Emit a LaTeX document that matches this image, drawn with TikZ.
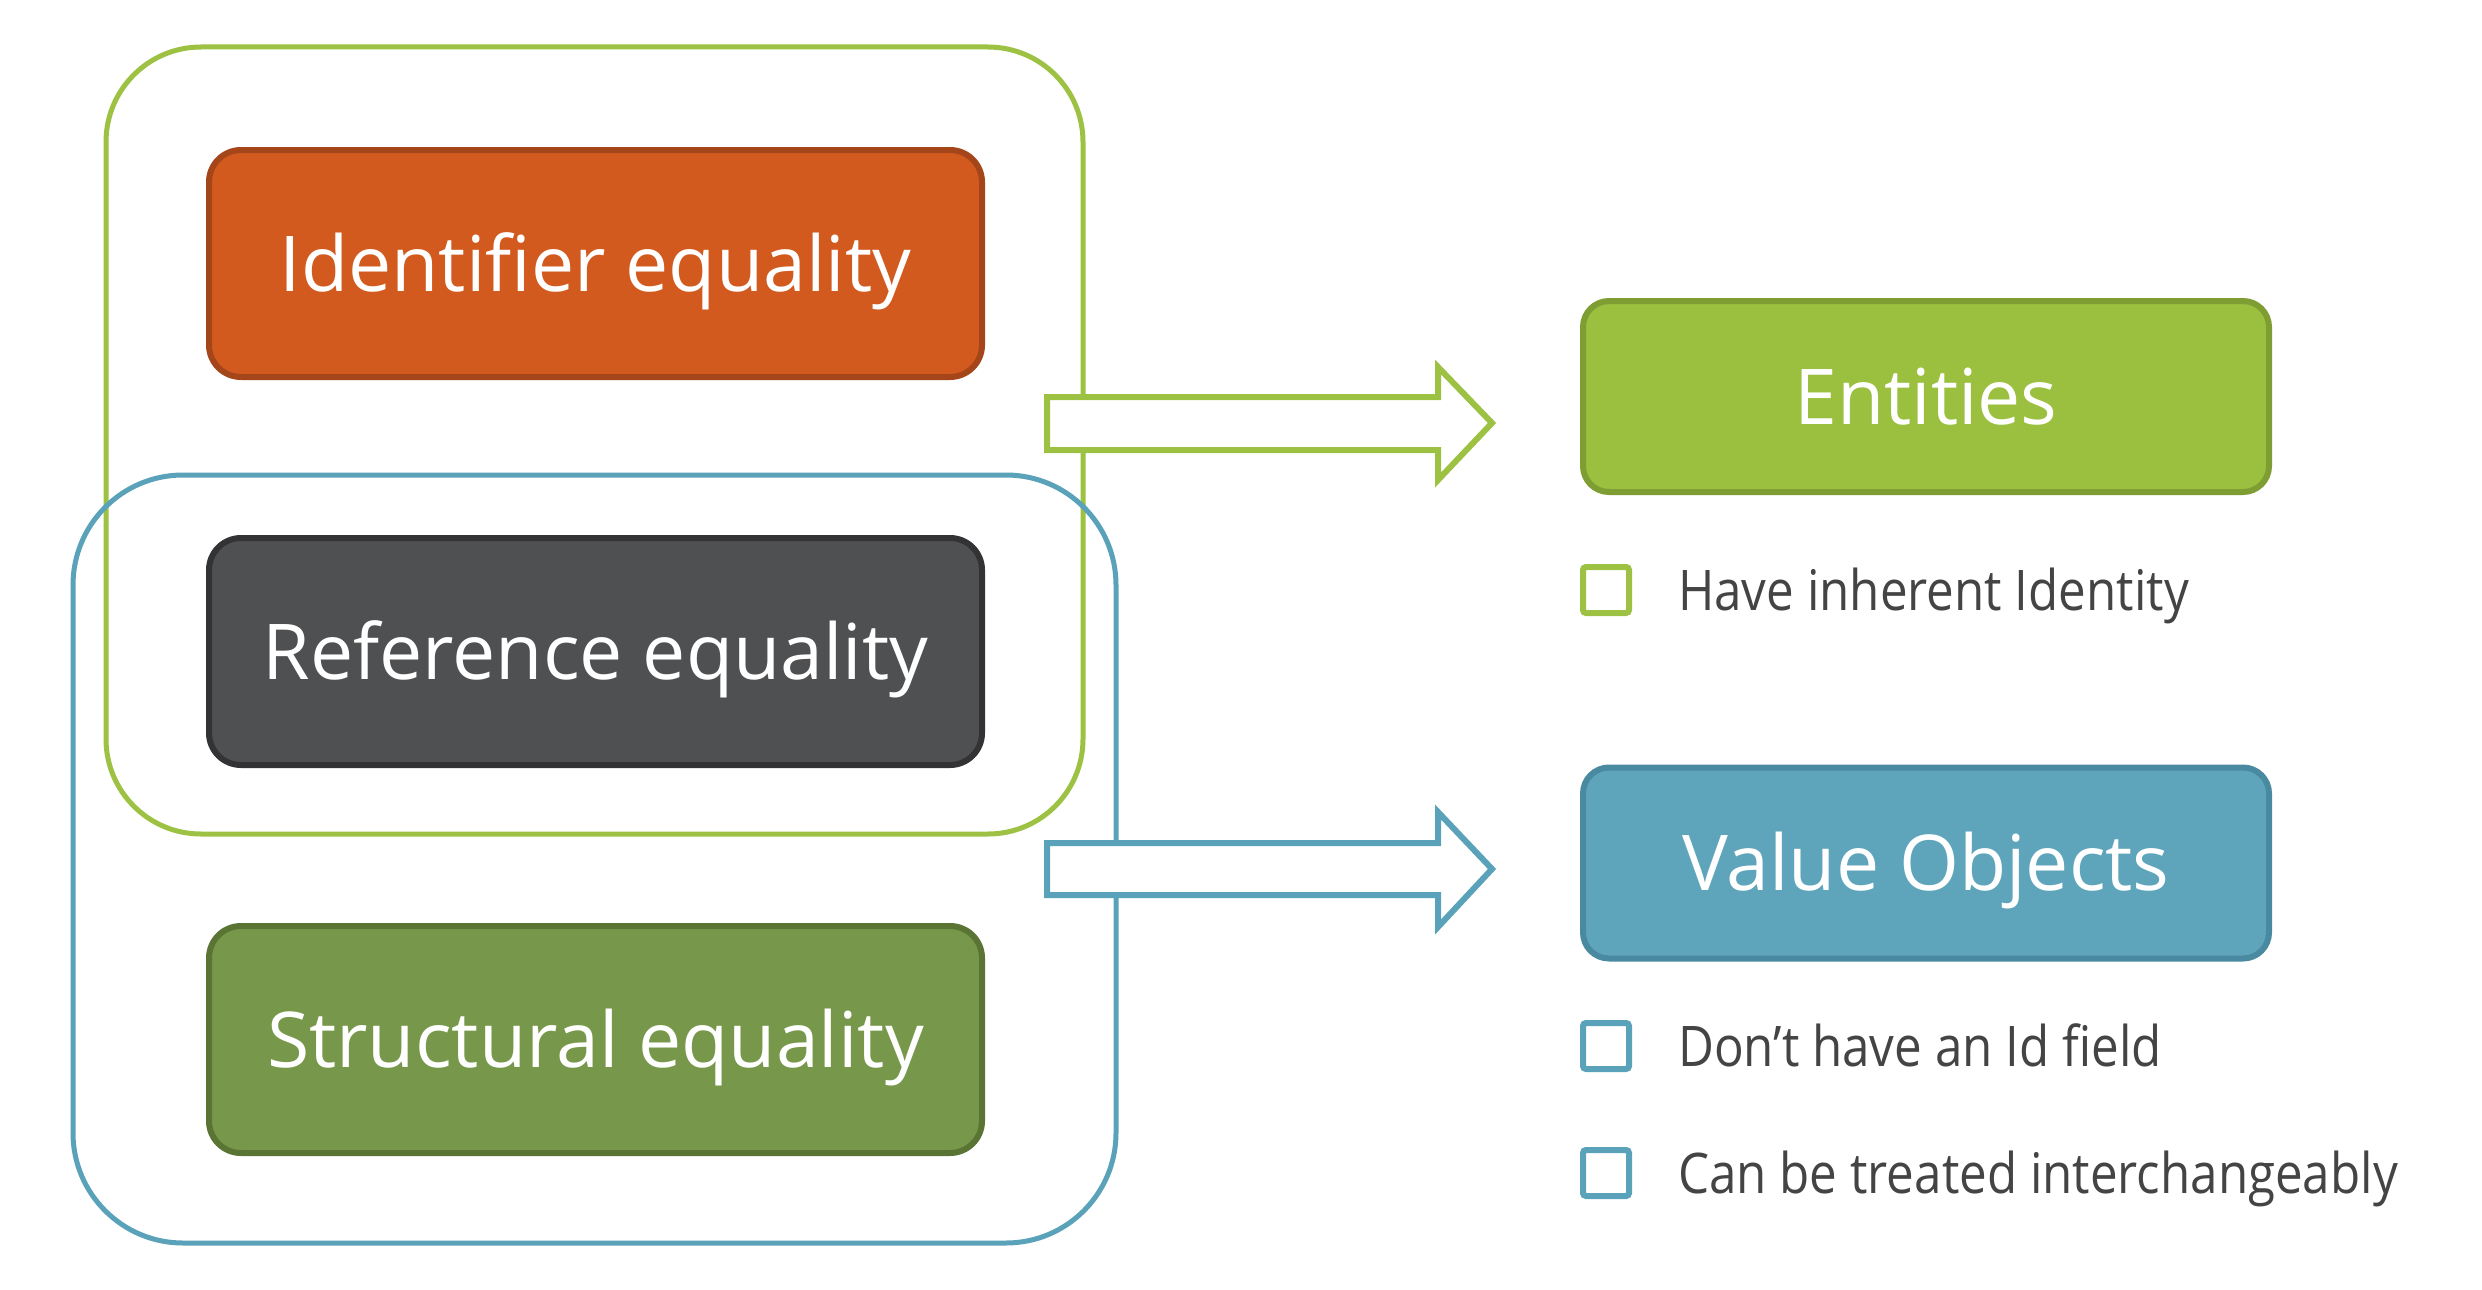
\documentclass[tikz,border=0pt]{standalone}
\usepackage{fontspec}
\setmainfont{Open Sans}
\newfontfamily\itemfont[FakeStretch=0.88]{Open Sans}
\definecolor{orangeF}{HTML}{D35A1E}
\definecolor{orangeD}{HTML}{A5461A}
\definecolor{grayF}{HTML}{4F5052}
\definecolor{grayD}{HTML}{333335}
\definecolor{olivF}{HTML}{77984A}
\definecolor{olivD}{HTML}{5A7433}
\definecolor{limeF}{HTML}{9BBF3E}
\definecolor{limeD}{HTML}{7E9E33}
\definecolor{tealF}{HTML}{5EA5BC}
\definecolor{tealD}{HTML}{4A8AA0}
\definecolor{limeL}{HTML}{9DC142}
\definecolor{tealL}{HTML}{5AA2B9}
\definecolor{txt}{HTML}{444444}
\tikzset{
  bigbox/.style={draw, rounded corners=32pt, line width=6pt, minimum width=773pt, minimum height=227pt, inner sep=0pt, text height=55pt, text depth=0pt, text=white, font=\fontsize{77}{90}\selectfont},
  catbox/.style={draw, rounded corners=26pt, line width=6pt, minimum width=686pt, minimum height=191pt, inner sep=0pt, text height=55pt, text depth=0pt, text=white, font=\fontsize{77}{90}\selectfont},
  chk/.style={draw, line width=6pt, rounded corners=3pt, minimum width=46pt, minimum height=46pt, inner sep=0pt},
  item/.style={anchor=base west, text=txt, inner sep=0pt, font=\itemfont\fontsize{56}{60}\selectfont},
  container/.style={line width=5pt},
  blockarrow/.style={line width=6pt, fill=white, line join=miter}
}
\begin{document}
\begin{tikzpicture}[x=1pt,y=-1pt]
\useasboundingbox[fill=white] (0,0) rectangle (2482,1290);
% containers
\draw[container, draw=limeL, rounded corners=95pt] (106,47) rectangle (1083,834);
\draw[container, draw=tealL, rounded corners=110pt] (73,475) rectangle (1116,1243);
% arrows
\draw[blockarrow, draw=limeL] (1047,397) -- (1438,397) -- (1438,367) -- (1492,423) -- (1438,480) -- (1438,450) -- (1047,450) -- cycle;
\draw[blockarrow, draw=tealL] (1047,843) -- (1438,843) -- (1438,812) -- (1492,869) -- (1438,927) -- (1438,895) -- (1047,895) -- cycle;
% boxes
\node[bigbox, fill=orangeF, draw=orangeD] (ident) at (595.5,263.5) {Identifier equality};
\node[bigbox, fill=grayF, draw=grayD] (ref) at (595.5,651.5) {Reference equality};
\node[bigbox, fill=olivF, draw=olivD] (struct) at (595.5,1039.5) {Structural equality};
\node[catbox, fill=limeF, draw=limeD] (ent) at (1926,396.5) {Entities};
\node[catbox, fill=tealF, draw=tealD] (vo) at (1926,863) {Value Objects};
% items
\node[chk, draw=limeL] (c1) at (1606,590) {};
\node[item] (t1) at (1678,610) {Have inherent Identity};
\node[chk, draw=tealL] (c2) at (1606,1046) {};
\node[item] (t2) at (1678,1066) {Don’t have an Id field};
\node[chk, draw=tealL] (c3) at (1606,1173) {};
\node[item] (t3) at (1678,1193) {Can be treated interchangeably};
\end{tikzpicture}
\end{document}
